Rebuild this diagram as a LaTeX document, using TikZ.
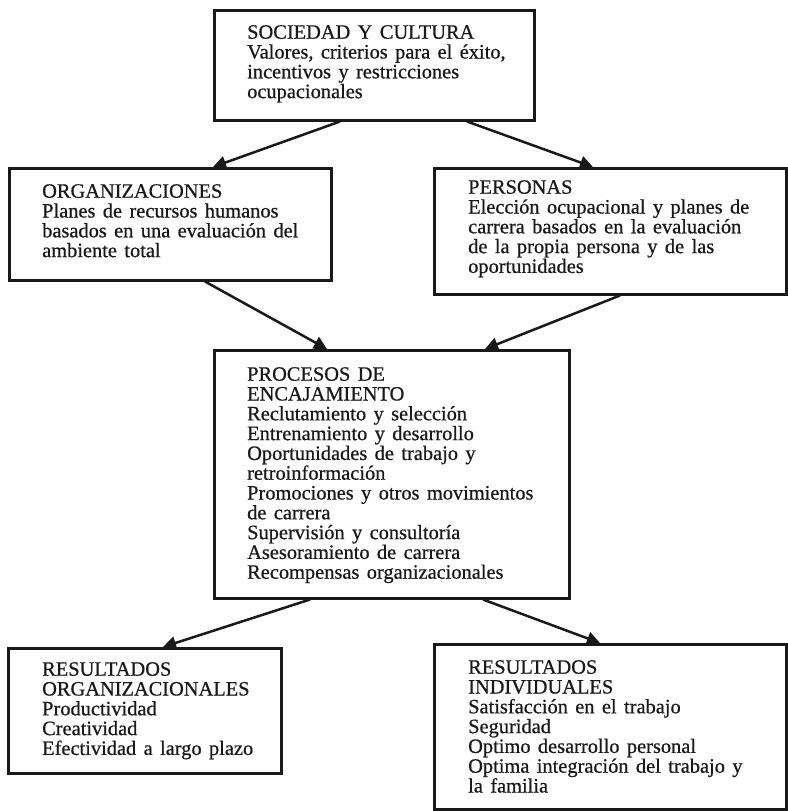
\documentclass[tikz,border=0pt]{standalone}
\usepackage{fontspec}
\setmainfont[FakeBold=0.6,WordSpace=1.45]{Liberation Serif}
\usetikzlibrary{arrows.meta,calc}
\begin{document}
\begin{tikzpicture}[x=1pt,y=-1pt,
  box/.style={draw=black!90,line width=2.5pt,inner sep=0pt,anchor=north west},
  txt/.style={anchor=north west,inner sep=0pt,align=left,
    font=\fontsize{20.4}{19.8}\selectfont,text=black!90},
  conn/.style={line width=2.5pt,draw=black!90,-{Triangle[length=13pt,width=13pt]}}]
\fill[white] (0,0) rectangle (787,811);
\useasboundingbox (0,0) rectangle (787,811);
% boxes
\node[box,minimum width=320pt,minimum height=110pt] (top) at (213,9) {};
\node[box,minimum width=322pt,minimum height=112pt] (org) at (8,167) {};
\node[box,minimum width=352pt,minimum height=126pt] (per) at (433,167) {};
\node[box,minimum width=355pt,minimum height=248pt] (proc) at (213,349) {};
\node[box,minimum width=273pt,minimum height=125pt] (rorg) at (7,647) {};
\node[box,minimum width=352pt,minimum height=165pt] (rind) at (433,643) {};
% texts
\node[txt] (ttop) at ($(top.north west)+(34,16)$) {SOCIEDAD Y CULTURA\\Valores, criterios para el éxito,\\incentivos y restricciones\\ocupacionales};
\node[txt] (torg) at ($(org.north west)+(34,17)$) {ORGANIZACIONES\\Planes de recursos humanos\\basados en una evaluación del\\ambiente total};
\node[txt] (tper) at ($(per.north west)+(35,13)$) {PERSONAS\\Elección ocupacional y planes de\\carrera basados en la evaluación\\de la propia persona y de las\\oportunidades};
\node[txt] (tproc) at ($(proc.north west)+(34,18)$) {PROCESOS DE\\ENCAJAMIENTO\\Reclutamiento y selección\\Entrenamiento y desarrollo\\Oportunidades de trabajo y\\retroinformación\\Promociones y otros movimientos\\de carrera\\Supervisión y consultoría\\Asesoramiento de carrera\\Recompensas organizacionales};
\node[txt] (trorg) at ($(rorg.north west)+(35,15)$) {RESULTADOS\\ORGANIZACIONALES\\Productividad\\Creatividad\\Efectividad a largo plazo};
\node[txt] (trind) at ($(rind.north west)+(35,17)$) {RESULTADOS\\INDIVIDUALES\\Satisfacción en el trabajo\\Seguridad\\Optimo desarrollo personal\\Optima integración del trabajo y\\la familia};
% connectors
\draw[conn] ($(top.south west)+(127,0)$) -- ($(org.north west)+(205,0)$);
\draw[conn] ($(top.south west)+(254,0)$) -- ($(per.north west)+(160,0)$);
\draw[conn] ($(org.south west)+(197,0)$) -- ($(proc.north west)+(114,0)$);
\draw[conn] ($(per.south west)+(187,0)$) -- ($(proc.north west)+(272,0)$);
\draw[conn] ($(proc.south west)+(97,0)$) -- ($(rorg.north west)+(156,0)$);
\draw[conn] ($(proc.south west)+(270,0)$) -- ($(rind.north west)+(167,0)$);
\end{tikzpicture}
\end{document}
